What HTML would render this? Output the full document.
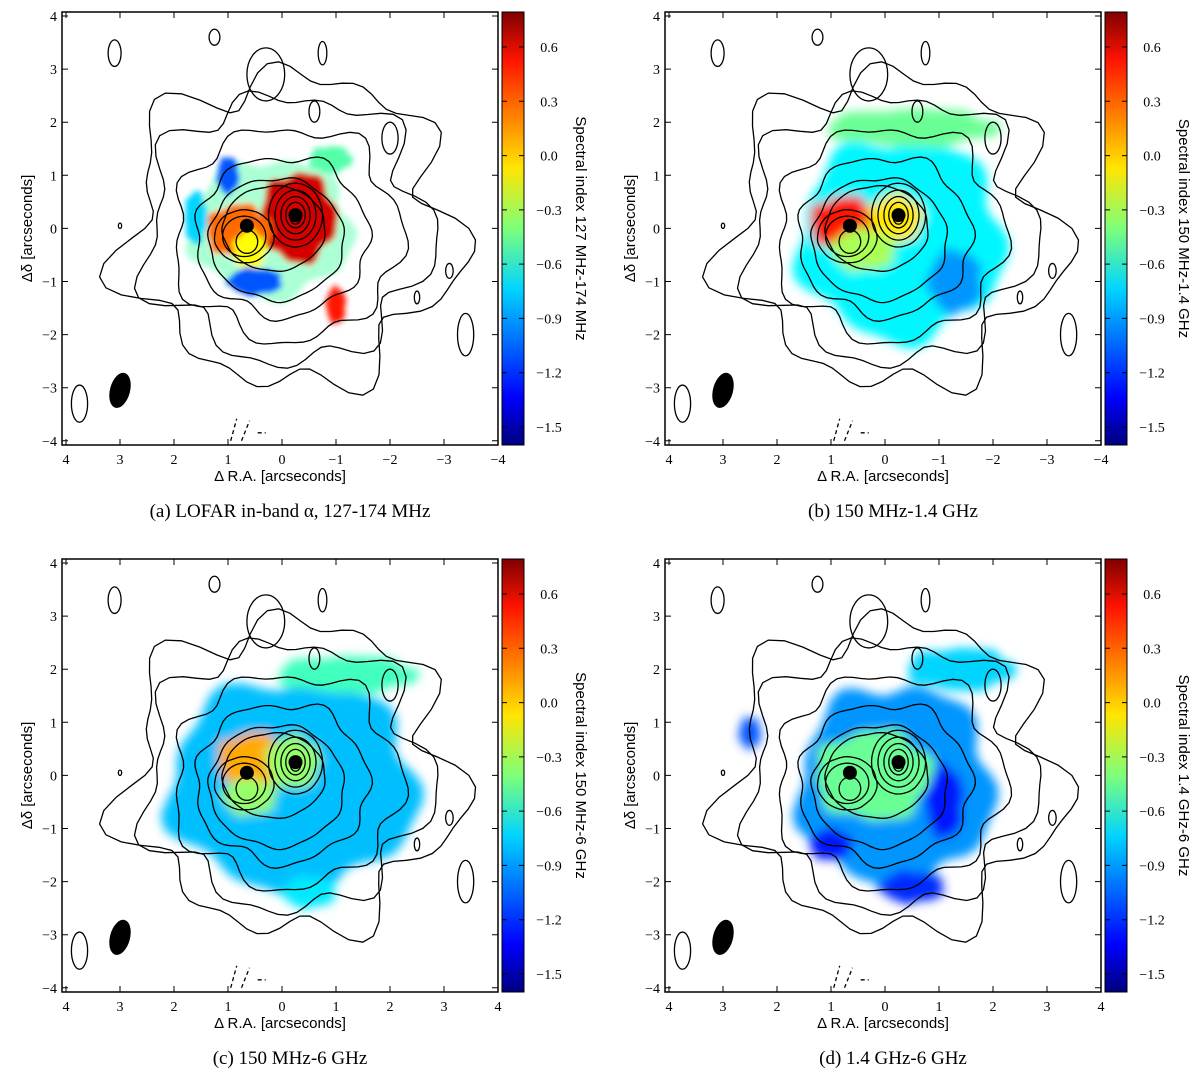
<!DOCTYPE html>
<html><head><meta charset="utf-8"><style>
body{margin:0;background:#fff;width:1200px;height:1073px;overflow:hidden}
svg{display:block}
text{font-family:"Liberation Sans",sans-serif}
.serif{font-family:"Liberation Serif",serif}
</style></head><body>
<svg id="fig" width="1200" height="1073" viewBox="0 0 1200 1073" xmlns="http://www.w3.org/2000/svg">
<defs>
<filter id="bl" x="-50%" y="-50%" width="200%" height="200%"><feGaussianBlur stdDeviation="5"/></filter>
<filter id="bl2" x="-50%" y="-50%" width="200%" height="200%"><feGaussianBlur stdDeviation="3"/></filter>
<linearGradient id="jet" x1="0" y1="1" x2="0" y2="0">
<stop offset="0" stop-color="#00007f"/><stop offset="0.11" stop-color="#0000ff"/><stop offset="0.36" stop-color="#00d4ff"/><stop offset="0.5" stop-color="#7dff7a"/><stop offset="0.64" stop-color="#ffe500"/><stop offset="0.89" stop-color="#ff1300"/><stop offset="1" stop-color="#7f0000"/>
</linearGradient>
</defs>
</svg>
<script>
const NS="http://www.w3.org/2000/svg";
const svg=document.getElementById('fig');
// data arrays
const cbTicks=[0.6,0.3,0.0,-0.3,-0.6,-0.9,-1.2,-1.5];
const cbLabels=["0.6","0.3","0.0","\u22120.3","\u22120.6","\u22120.9","\u22121.2","\u22121.5"];
const axTicks=[4,3,2,1,0,-1,-2,-3,-4];
const xLabelsAB=["4","3","2","1","0","\u22121","\u22122","\u22123","\u22124"];
const xLabelsCD=["4","3","2","1","0","1","2","3","4"];
const yLabels=["4","3","2","1","0","\u22121","\u22122","\u22123","\u22124"];
const panelTitles=["Spectral index 127 MHz-174 MHz","Spectral index 150 MHz-1.4 GHz","Spectral index 150 MHz-6 GHz","Spectral index 1.4 GHz-6 GHz"];
const captions=["(a) LOFAR in-band \u03b1, 127-174 MHz","(b) 150 MHz-1.4 GHz","(c) 150 MHz-6 GHz","(d) 1.4 GHz-6 GHz"];
// colour blobs: [ra, dec, rx(arcsec), ry, value]
const blobsA=[[0.2,0.0,1.5,1.3,-0.5],[-0.3,0.2,0.7,0.85,0.6],[0.8,-0.05,0.6,0.5,0.25],[0.6,-0.4,0.3,0.35,-0.1],[-1.0,-1.45,0.18,0.35,0.45],[0.5,-1.0,0.5,0.25,-1.1],[1.0,1.0,0.2,0.35,-1.1],[-0.9,1.3,0.4,0.25,-0.5],[1.6,0.2,0.2,0.5,-0.8]];
const blobsB=[[-0.3,-0.2,1.9,1.9,-0.72],[-0.5,1.9,1.6,0.35,-0.45],[0.75,0.1,0.65,0.5,0.45],[-0.2,0.2,0.5,0.45,-0.05],[0.4,-0.4,0.6,0.4,-0.3],[-1.3,-1.0,0.5,0.6,-0.95]];
const blobsC=[[-0.2,-0.2,2.3,2.0,-0.85],[-1.2,1.9,1.3,0.35,-0.55],[0.55,0.3,0.65,0.5,0.1],[-0.2,0.25,0.5,0.5,-0.35],[0.6,-0.4,0.5,0.35,-0.35],[-0.5,-2.2,0.5,0.3,-0.75]];
const blobsD=[[-0.2,-0.2,1.8,1.9,-0.95],[-1.4,2.0,1.0,0.4,-0.8],[0.2,0.0,1.1,0.85,-0.45],[1.0,-1.3,0.4,0.3,-1.25],[-1.1,-0.5,0.35,0.7,-1.25],[-0.5,-2.1,0.6,0.3,-1.2],[2.5,0.8,0.2,0.3,-1.1]];
const blobSets=[blobsA,blobsB,blobsC,blobsD];
// contours: [ra, dec, rx, ry, wiggle amplitude]
const contours=[[-0.15,0.0,3.0,2.9,0.3],[-0.1,0.0,2.6,2.5,0.25],[-0.1,-0.1,2.1,2.0,0.18],[0.0,-0.15,1.6,1.5,0.12],[0.1,-0.2,1.25,1.15,0.06],[0.15,0.0,0.95,0.8,0.03],[0.7,-0.15,0.55,0.5,0.02],[-0.25,0.25,0.5,0.6,0.01],[0.7,-0.15,0.4,0.38,0],[-0.25,0.25,0.38,0.47,0],[0.65,-0.25,0.2,0.22,0],[-0.25,0.25,0.27,0.35,0],[-0.25,0.25,0.18,0.24,0],[-0.25,0.22,0.1,0.14,0]];
const smallLoops=[[1.25,3.6,0.1,0.15],[3.1,3.3,0.12,0.25],[-0.75,3.3,0.08,0.22],[0.3,2.9,0.35,0.5],[-0.6,2.2,0.1,0.2],[-2.0,1.7,0.15,0.3],[-2.5,-1.3,0.05,0.12],[-3.1,-0.8,0.07,0.14],[-3.4,-2.0,0.15,0.4],[3.0,0.05,0.03,0.05],[3.75,-3.3,0.15,0.35]];
const sources=[[0.65,0.05],[-0.25,0.25]];

function jet(v){const t=(v+1.6)/2.4;const r=Math.max(0,Math.min(1,1.5-Math.abs(4*t-3))),g=Math.max(0,Math.min(1,1.5-Math.abs(4*t-2))),b=Math.max(0,Math.min(1,1.5-Math.abs(4*t-1)));return `rgb(${Math.round(r*255)},${Math.round(g*255)},${Math.round(b*255)})`;}
function el(tag,attrs,parent){const e=document.createElementNS(NS,tag);for(const k in attrs)e.setAttribute(k,attrs[k]);(parent||svg).appendChild(e);return e;}

const PW=436,PH=433;
function panel(i,ox,oy){
  const g=el('g',{});
  
  
  const L=ox+62,T=oy+12;
  const X=ra=>L+4+(4-ra)*54;
  const Y=dec=>T+4+(4-dec)*53.1;
  const sx=54,sy=53.1;
  const clipId='clip'+i;
  const cp=el('clipPath',{id:clipId},g);el('rect',{x:L,y:T,width:PW,height:PH},cp);
  const data=el('g',{'clip-path':`url(#${clipId})`},g);
  // colour map
  const cm=el('g',{filter:i===0?'url(#bl2)':'url(#bl)'},data);
  
  
  blobSets[i].forEach((b,k)=>{
    let d='';const N=48;
    for(let j=0;j<=N;j++){const a=j/N*2*Math.PI;
      const w=1+0.07*Math.sin(5*a+k)+0.05*Math.cos(9*a+2*k);
      d+=(j?'L':'M')+(X(b[0])+Math.cos(a)*b[2]*sx*w).toFixed(1)+','+(Y(b[1])+Math.sin(a)*b[3]*sy*w).toFixed(1);}
    const e=el('path',{d:d+'Z',fill:jet(b[4]),opacity:i===0&&b[2]>1?0.5:1},cm);
    
    
  });
  // contours
  const cg=el('g',{fill:'none',stroke:'#000','stroke-width':1.3},data);
  
  
  contours.forEach((c,k)=>{
    let d='';const N=96;
    for(let j=0;j<=N;j++){const a=j/N*2*Math.PI;
      const w=1+c[4]*(0.35*Math.sin(7*a+k)+0.25*Math.cos(11*a+2*k)+0.2*Math.sin(5*a+0.5));
      const px=X(c[0])+Math.cos(a)*c[2]*sx*w, py=Y(c[1])+Math.sin(a)*c[3]*sy*w;
      d+=(j?'L':'M')+px.toFixed(1)+','+py.toFixed(1);}
    const p=el('path',{d:d+'Z'},cg);
    
    
  });
  smallLoops.forEach(c=>{
    const e=el('ellipse',{cx:X(c[0]),cy:Y(c[1]),rx:c[2]*sx,ry:c[3]*sy},cg);
    
    
  });
  el('path',{d:`M${X(0.95)},${Y(-4)} l6,-22 M${X(0.75)},${Y(-4)} l8,-20 M${X(0.45)},${Y(-3.85)} h8`,'stroke-dasharray':'4,3'},cg);
  sources.forEach(s=>{
    const c=el('circle',{cx:X(s[0]),cy:Y(s[1]),r:7,fill:'#000'},data);
    
    
  });
  const beam=el('ellipse',{cx:X(3.0),cy:Y(-3.05),rx:10,ry:18,fill:'#000',transform:`rotate(15 ${X(3.0)} ${Y(-3.05)})`},data);
  
  
  // frame & ticks
  const fr=el('rect',{x:L,y:T,width:PW,height:PH,fill:'none',stroke:'#000','stroke-width':1.5},g);
  
  
  const xl=i<2?xLabelsAB:xLabelsCD;
  axTicks.forEach((t,k)=>{
    el('path',{d:`M${X(t)},${T+PH}v-6M${X(t)},${T}v6M${L},${Y(t)}h6M${L+PW},${Y(t)}h-6`,stroke:'#000','stroke-width':1},g);
    const tx=el('text',{x:X(t),y:T+PH+19,'font-size':14,'text-anchor':'middle',class:'serif'},g);tx.textContent=xl[k];
    
    
    const ty=el('text',{x:L-5,y:Y(t)+5,'font-size':14,'text-anchor':'end',class:'serif'},g);ty.textContent=yLabels[k];
    
    
  });
  const xt=el('text',{x:L+PW/2,y:T+PH+36,'font-size':15,'text-anchor':'middle'},g);xt.textContent='\u0394 R.A. [arcseconds]';
  
  
  const yt=el('text',{x:0,y:0,'font-size':15,'text-anchor':'middle',transform:`translate(${L-30},${T+PH/2}) rotate(-90)`},g);yt.textContent='\u0394\u03b4 [arcseconds]';
  
  
  // colorbar
  const cbx=ox+502,cbw=22,cbT=T,cbB=T+PH;
  const CY=v=>oy+47+(0.6-v)*(380/2.1);
  const cb=el('rect',{x:cbx,y:cbT,width:cbw,height:PH,fill:'url(#jet)',stroke:'#000','stroke-width':1},g);
  
  
  cbTicks.forEach((v,k)=>{
    el('path',{d:`M${cbx},${CY(v)}h5M${cbx+cbw},${CY(v)}h-5`,stroke:'#000'},g);
    const t=el('text',{x:cbx+cbw+25,y:CY(v)+5,'font-size':14,'text-anchor':'middle',class:'serif'},g);t.textContent=cbLabels[k];
    
    
  });
  const ct=el('text',{x:0,y:0,'font-size':15,'text-anchor':'middle',transform:`translate(${ox+576},${T+PH/2}) rotate(90)`},g);ct.textContent=panelTitles[i];
  
  
  const cap=el('text',{x:L+PW/2+10,y:oy+517,'font-size':19,'text-anchor':'middle',class:'serif'},g);cap.textContent=captions[i];
  
  
}
panel(0,0,0);panel(1,603,0);panel(2,0,547);panel(3,603,547);
</script>
</body></html>
